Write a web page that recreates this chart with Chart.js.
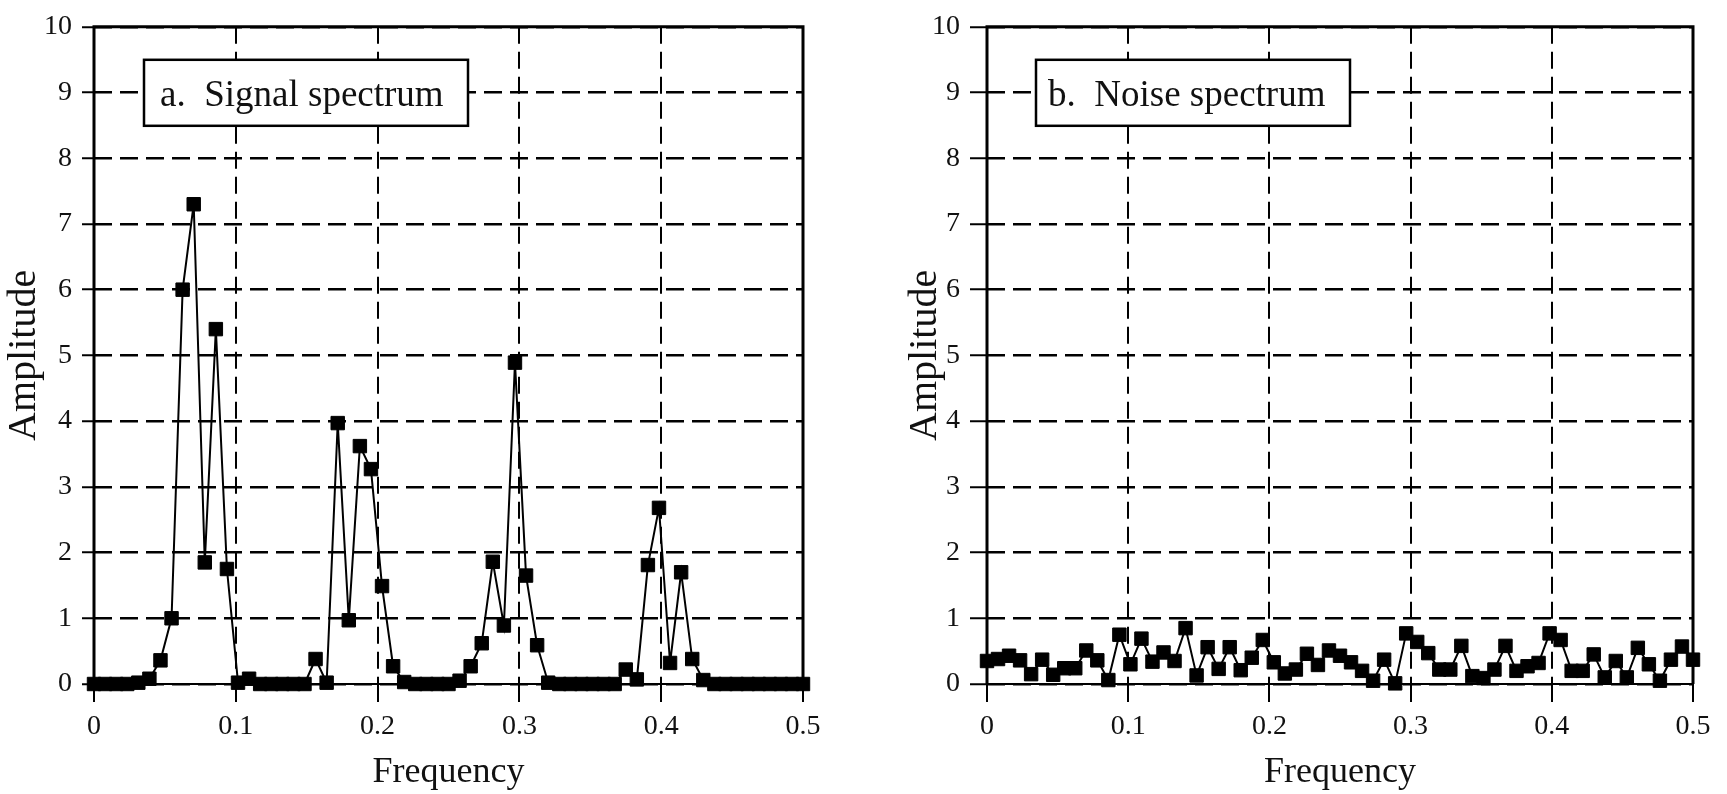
<!DOCTYPE html>
<html>
<head>
<meta charset="utf-8">
<script src="https://cdn.jsdelivr.net/npm/chart.js@4/dist/chart.umd.min.js"></script>
<style>
  body { margin: 0; background: #fff; }
  .panel { position: absolute; top: 0; height: 794px; }
  #signalPanel { left: 0; width: 880px; }
  #noisePanel { left: 880px; width: 847px; }
</style>
</head>
<body>
<div class="panel" id="signalPanel"><canvas id="signalChart"></canvas></div>
<div class="panel" id="noisePanel"><canvas id="noiseChart"></canvas></div>
<script>
// amplitude per DFT bin (k = 0..64, frequency = k/128)
const signal = [
  0, 0, 0, 0, 0.02, 0.08, 0.36, 1.0, 6.0, 7.3,
  1.85, 5.4, 1.75, 0.02, 0.08, 0, 0, 0, 0, 0,
  0.38, 0.02, 3.97, 0.97, 3.62, 3.27, 1.49, 0.27, 0.03, 0,
  0, 0, 0, 0.05, 0.27, 0.62, 1.86, 0.89, 4.89, 1.65,
  0.59, 0.02, 0, 0, 0, 0, 0, 0, 0.22, 0.07,
  1.81, 2.68, 0.32, 1.70, 0.38, 0.06, 0, 0, 0, 0,
  0, 0, 0, 0, 0
];
const noise = [
  0.35, 0.38, 0.43, 0.36, 0.15, 0.37, 0.14, 0.24, 0.24, 0.51,
  0.36, 0.06, 0.75, 0.30, 0.69, 0.34, 0.48, 0.35, 0.85, 0.13,
  0.56, 0.23, 0.56, 0.21, 0.40, 0.67, 0.33, 0.16, 0.22, 0.46,
  0.29, 0.51, 0.43, 0.33, 0.20, 0.05, 0.37, 0.01, 0.77, 0.64,
  0.47, 0.22, 0.22, 0.58, 0.12, 0.09, 0.22, 0.58, 0.20, 0.27,
  0.32, 0.77, 0.67, 0.20, 0.20, 0.45, 0.10, 0.35, 0.10, 0.55,
  0.30, 0.05, 0.37, 0.57, 0.37
];
const freqs = signal.map((_, k) => k / 128);
const xTicks = [0, 0.1, 0.2, 0.3, 0.4, 0.5];
const yTicks = [0, 1, 2, 3, 4, 5, 6, 7, 8, 9, 10];

const serif = '"Liberation Serif", "Times New Roman", serif';

// white label box + plot frame, drawn over the grid but under the data
const framePlugin = {
  id: 'frame',
  beforeDatasetsDraw(chart, args, opts) {
    const { ctx, chartArea: a } = chart;
    ctx.save();
    ctx.strokeStyle = '#000';
    ctx.lineWidth = 2;
    ctx.beginPath();
    ctx.moveTo(a.left, a.bottom); ctx.lineTo(a.right, a.bottom);
    ctx.stroke();
    ctx.lineWidth = 3;
    ctx.beginPath();
    ctx.moveTo(a.left, a.bottom); ctx.lineTo(a.left, a.top);
    ctx.lineTo(a.right, a.top); ctx.lineTo(a.right, a.bottom);
    ctx.stroke();

    const x = a.left + opts.dx, y = a.top + 33, w = opts.width, h = 66;
    ctx.fillStyle = '#fff';
    ctx.fillRect(x, y, w, h);
    ctx.lineWidth = 2.5;
    ctx.strokeRect(x, y, w, h);
    ctx.fillStyle = '#111';
    ctx.font = '37px ' + serif;
    ctx.textBaseline = 'alphabetic';
    ctx.fillText(opts.text, x + opts.pad, y + 46);
    ctx.restore();
  }
};

function makeChart(id, values, box, yWidth, yTick, padding) {
  return new Chart(document.getElementById(id), {
    type: 'line',
    data: {
      datasets: [{
        data: values.map((v, k) => ({ x: freqs[k], y: v })),
        borderColor: '#000',
        borderWidth: 2,
        backgroundColor: '#000',
        pointStyle: 'rect',
        pointRadius: 9.5,
        pointBorderWidth: 1,
        pointBorderColor: '#000',
        pointBackgroundColor: '#000',
        tension: 0,
        clip: false
      }]
    },
    options: {
      responsive: true,
      maintainAspectRatio: false,
      animation: false,
      layout: { padding: padding },
      plugins: {
        legend: { display: false },
        tooltip: { enabled: false },
        frame: box
      },
      scales: {
        x: {
          type: 'linear',
          min: 0,
          max: 0.5,
          afterBuildTicks: s => { s.ticks = xTicks.map(v => ({ value: v })); },
          afterFit: s => { s.height = 110; },
          grid: { color: '#000', lineWidth: 2, tickLength: 18, tickColor: '#000', tickWidth: 2, tickBorderDash: [] },
          border: { display: false, dash: [17, 8] },
          ticks: { color: '#111', font: { family: serif, size: 28 }, padding: 8, maxRotation: 0 },
          title: { display: true, text: 'Frequency', color: '#111', font: { family: serif, size: 36 }, padding: 0 }
        },
        y: {
          min: 0,
          max: 10,
          afterBuildTicks: s => { s.ticks = yTicks.map(v => ({ value: v })); },
          afterFit: s => { s.width = yWidth; },
          grid: { color: '#000', lineWidth: 2.5, tickLength: yTick, tickColor: '#000', tickWidth: 2, tickBorderDash: [] },
          border: { display: false, dash: [18, 8] },
          ticks: { color: '#111', font: { family: serif, size: 28 }, padding: 10 },
          title: { display: true, text: 'Amplitude', color: '#111', font: { family: serif, size: 40 }, padding: 0 }
        }
      }
    },
    plugins: [framePlugin]
  });
}

makeChart('signalChart', signal,
  { text: 'a.  Signal spectrum', dx: 50, width: 324, pad: 16 },
  94, 12, { top: 24, right: 77, left: 0, bottom: 0 });

makeChart('noiseChart', noise,
  { text: 'b.  Noise spectrum', dx: 49, width: 314, pad: 12 },
  86, 17, { top: 24, right: 34, left: 21, bottom: 0 });
</script>
</body>
</html>
